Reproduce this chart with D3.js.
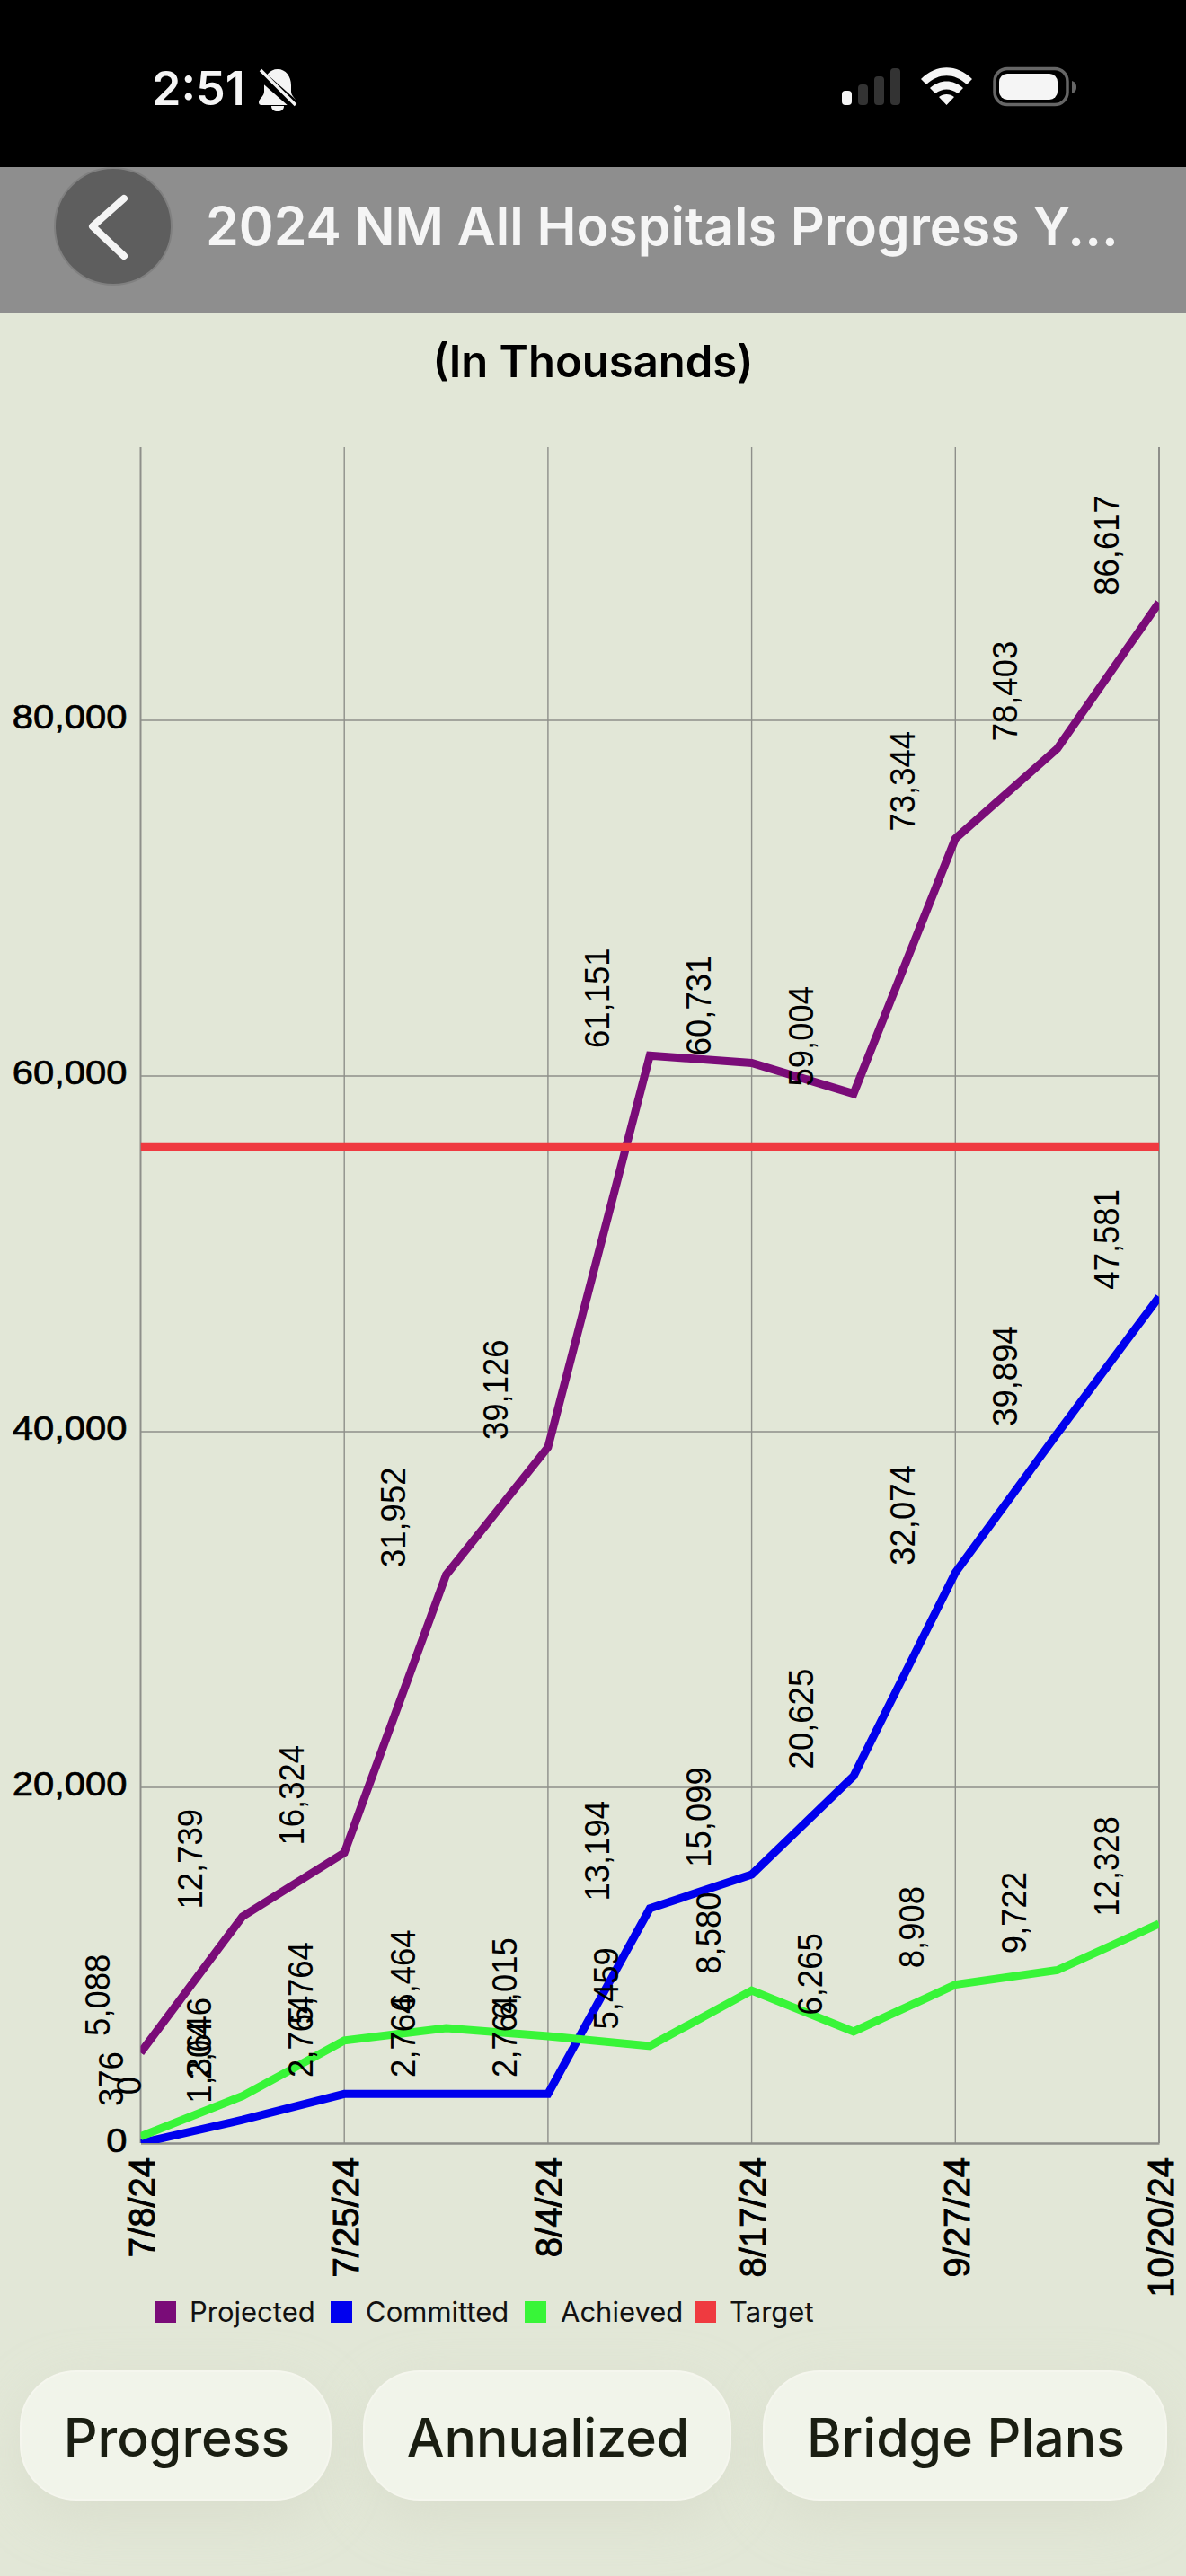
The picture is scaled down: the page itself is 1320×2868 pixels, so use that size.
<!DOCTYPE html>
<html><head><meta charset="utf-8">
<style>html,body{margin:0;padding:0;background:#e2e7d7}svg{display:block}
text{font-family:"Liberation Sans",sans-serif}
.ui{font-family:Inter,sans-serif}</style>
<script src="https://cdn.jsdelivr.net/npm/d3@7/dist/d3.min.js"></script></head><body>
<script>
const dates=["7/8/24","","7/25/24","","8/4/24","","8/17/24","","9/27/24","","10/20/24"];
const projected=[5088,12739,16324,31952,39126,61151,60731,59004,73344,78403,86617];
const committed=[0,1304,2764,2764,2764,13194,15099,20625,32074,39894,47581];
const achieved=[376,2646,5764,6464,6015,5459,8580,6265,8908,9722,12328];
const targetValue=56000;
const yTicks=[0,20000,40000,60000,80000];
const seriesNames=["Projected","Committed","Achieved","Target"];
const seriesColors=["#7a0c78","#0000ee","#38f538","#ef3a40"];
const buttonLabels=["Progress","Annualized","Bridge Plans"];

const W=1320,H=2868,plotL=156.5,plotR=1290,plotT=498,plotB=2386;
const svg=d3.select("body").append("svg").attr("width",W).attr("height",H);
const defs=svg.append("defs");
defs.append("clipPath").attr("id","plot").append("rect").attr("x",plotL).attr("y",plotT).attr("width",plotR-plotL).attr("height",plotB-plotT);
const blur=defs.append("filter").attr("id","soft").attr("x","-30%").attr("y","-50%").attr("width","160%").attr("height","200%");
blur.append("feGaussianBlur").attr("stdDeviation",32);

svg.append("rect").attr("width",W).attr("height",H).attr("fill","#e2e7d7");
// status + header
svg.append("rect").attr("width",W).attr("height",186).attr("fill","#000");
svg.append("rect").attr("y",186).attr("width",W).attr("height",162).attr("fill","#8e8e8e");
svg.append("text").attr("class","ui").attr("x",169).attr("y",117).attr("font-size",52).attr("font-weight",600).attr("fill","#f5f5f5").text("2:51");
const bell=svg.append("g").attr("fill","#f5f5f5");
bell.append("path").attr("d","M309 77c-9 0-15 8-15 18v7c0 5-6 8-6 12 0 2 1 3 3 3h36c2 0 3-1 3-3 0-4-6-7-6-12v-7c0-10-6-18-15-18z");
bell.append("path").attr("d","M302 118h14c0 4-3 6-7 6s-7-2-7-6z");
svg.append("line").attr("x1",286).attr("y1",80).attr("x2",329).attr("y2",118).attr("stroke","#000").attr("stroke-width",11);
svg.append("line").attr("x1",290).attr("y1",78).attr("x2",329).attr("y2",117).attr("stroke","#f5f5f5").attr("stroke-width",3.5);
[[937,101,"#f5f5f5"],[955,94,"#333"],[973,85,"#333"],[991,76,"#333"]].forEach(b=>svg.append("rect").attr("x",b[0]).attr("y",b[1]).attr("width",11).attr("height",117-b[1]).attr("rx",4).attr("fill",b[2]));
svg.append("path").attr("fill","#f5f5f5").attr("d","M1025 88C1042 71 1065 71 1082 88L1076 94C1062 81 1045 81 1031 94Z M1035 98C1046 88 1061 88 1072 98L1066 104C1058 98 1049 98 1041 104Z M1045 108C1050 104 1057 104 1062 108L1053.500 117Z");
svg.append("rect").attr("x",1107).attr("y",76.500).attr("width",81).attr("height",40).attr("rx",14).attr("fill","none").attr("stroke","#666").attr("stroke-width",3.5);
svg.append("rect").attr("x",1112).attr("y",82).attr("width",65).attr("height",29).attr("rx",9).attr("fill","#f5f5f5");
svg.append("path").attr("d","M1193 90c3 1 5 3 5 7s-2 6-5 7z").attr("fill","#666");
svg.append("circle").attr("cx",126).attr("cy",252).attr("r",65).attr("fill","#5e5e5e").attr("stroke","#808080").attr("stroke-width",2);
svg.append("path").attr("d","M138 221L103 252L138 285").attr("fill","none").attr("stroke","#f5f5f5").attr("stroke-width",8).attr("stroke-linecap","round").attr("stroke-linejoin","round");
svg.append("text").attr("class","ui").attr("x",229).attr("y",273).attr("font-size",59).attr("font-weight",600).attr("fill","#f5f5f5").text("2024 NM All Hospitals Progress Y...");
svg.append("text").attr("class","ui").attr("x",660).attr("y",420).attr("text-anchor","middle").attr("font-size",49).attr("font-weight",600).attr("fill","#000").text("(In Thousands)");

// scales
const idx=dates.map((d,i)=>i);
const x=d3.scalePoint().domain(idx).range([plotL,plotR]);
const y=d3.scaleLinear().domain([0,95350]).range([plotB,plotT]);
const fmt=d3.format(",");
const grid="#8e8f8a";

// grid + axes
const xAxis=d3.axisBottom(x).tickValues(idx.filter(i=>dates[i])).tickSize(0).tickFormat(i=>dates[i]);
const gx=svg.append("g").attr("transform",`translate(0,${plotB})`).call(xAxis);
gx.select(".domain").attr("stroke",grid).attr("stroke-width",2.500);
gx.selectAll("text").attr("font-size",40).attr("fill","#000").attr("stroke","#000").attr("stroke-width",.9)
  .attr("text-anchor","end").attr("dy",0).attr("y",0)
  .attr("transform","translate(15,16) rotate(-90)");
const yAxis=d3.axisLeft(y).tickValues(yTicks).tickSize(0).tickPadding(15).tickFormat(fmt);
const gy=svg.append("g").attr("transform",`translate(${plotL},0)`).call(yAxis);
gy.select(".domain").remove();
gy.selectAll("text").attr("font-size",36).attr("fill","#000").attr("stroke","#000").attr("stroke-width",.7).attr("dy",0).attr("x",0).attr("y",9).attr("text-anchor","end")
  .attr("transform","translate(-15,0) scale(1.16,1)");
svg.append("g").selectAll("line").data(yTicks.slice(1)).join("line").attr("x1",plotL).attr("x2",plotR).attr("y1",y).attr("y2",y).attr("stroke",grid).attr("stroke-width",1.500);
svg.append("g").selectAll("line").data(idx.filter(i=>dates[i])).join("line").attr("x1",x).attr("x2",x).attr("y1",plotT).attr("y2",plotB)
  .attr("stroke",grid).attr("stroke-width",i=>(i===0||i===10)?2:1.400);

// lines
const line=d3.line().x((d,i)=>x(i)).y(d=>y(d));
const plot=svg.append("g").attr("clip-path","url(#plot)");
[projected,committed,achieved,idx.map(()=>targetValue)].forEach((s,k)=>{
  plot.append("path").datum(s).attr("d",line).attr("fill","none").attr("stroke",seriesColors[k]).attr("stroke-width",9).attr("stroke-linejoin","miter");
});
// value labels: end-anchored at the point, spun around their own centre
[projected,committed,achieved].forEach(s=>{
  svg.append("g").selectAll("text").data(s).join("text").attr("font-size",36.500).attr("fill","#000").attr("text-anchor","middle").attr("dy",".35em")
    .text(fmt).each(function(d,i){
      const w=this.getComputedTextLength(),cx=x(i)-w/2-3,cy=y(d)-64;
      d3.select(this).attr("transform",`translate(${cx},${cy}) rotate(-90) scale(1,1.07)`);
    });
});

// legend
const legendBox=[172,368,584,773],legendText=[211,407,624,812];
seriesNames.forEach((n,i)=>{
  svg.append("rect").attr("x",legendBox[i]).attr("y",2562).attr("width",24).attr("height",24).attr("fill",seriesColors[i]);
  svg.append("text").attr("class","ui").attr("x",legendText[i]).attr("y",2585).attr("font-size",31).attr("fill","#111").text(n);
});

// buttons
const btnX=[23,405,850],btnW=[345,408,448];
btnX.forEach((b,i)=>svg.append("rect").attr("x",b+6).attr("y",2660).attr("width",btnW[i]-12).attr("height",140).attr("rx",60).attr("fill","#d0d4c2").attr("opacity",.55).attr("filter","url(#soft)"));
buttonLabels.forEach((t,i)=>{
  svg.append("rect").attr("x",btnX[i]).attr("y",2640).attr("width",btnW[i]).attr("height",143).attr("rx",62).attr("fill","#f1f4ea").attr("stroke","#f5f6ee").attr("stroke-width",2);
  svg.append("text").attr("class","ui").attr("x",btnX[i]+btnW[i]/2+1).attr("y",2735).attr("text-anchor","middle").attr("font-size",59).attr("font-weight",500).attr("fill","#1a1e12").text(t);
});
</script></body></html>
